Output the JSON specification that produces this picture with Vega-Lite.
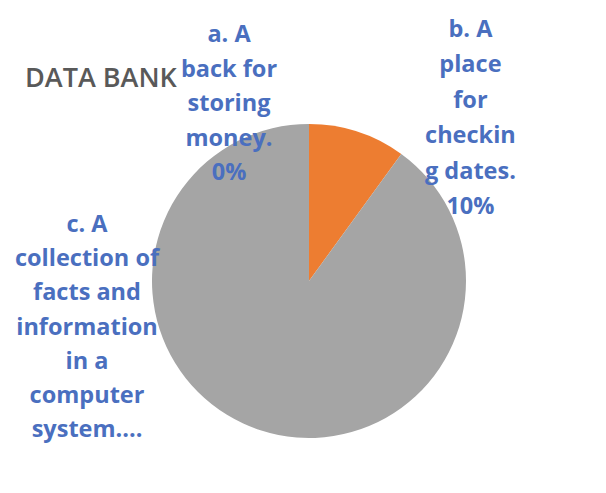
{
  "$schema": "https://vega.github.io/schema/vega-lite/v6.json",
  "width": 594,
  "height": 420,
  "autosize": {"type": "none"},
  "padding": {"left": 12, "top": 71, "right": 0, "bottom": 2},
  "background": "white",
  "title": {
    "text": "DATA BANK",
    "anchor": "start",
    "orient": "top",
    "frame": "group",
    "offset": 0,
    "baseline": "alphabetic",
    "dx": 13,
    "dy": 109,
    "font": "Open Sans",
    "fontSize": 27,
    "fontWeight": 600,
    "color": "#595959"
  },
  "data": {
    "values": [
      {"cat": "a", "value": 0, "label": "a. A\nback for\nstoring\nmoney.\n0%"},
      {"cat": "b", "value": 10, "label": "b. A\nplace\nfor\ncheckin\ng dates.\n10%"},
      {"cat": "c", "value": 90, "label": "c. A\ncollection of\nfacts and\ninformation\nin a\ncomputer\nsystem...."}
    ]
  },
  "encoding": {
    "theta": {"field": "value", "type": "quantitative", "stack": true},
    "order": {"field": "cat", "type": "ordinal"}
  },
  "layer": [
    {
      "mark": {"type": "arc", "radius": 157},
      "encoding": {
        "color": {
          "field": "cat",
          "type": "nominal",
          "scale": {"domain": ["a", "b", "c"], "range": ["#4472C4", "#ED7D31", "#A5A5A5"]},
          "legend": null
        }
      }
    },
    {
      "mark": {"type": "text", "radius": 239, "dx": -80, "dy": 0, "align": "center", "baseline": "alphabetic", "lineBreak": "\n", "lineHeight": 34.5, "font": "Open Sans", "fontSize": 23.5, "fontWeight": "bold", "color": "#4a6fbf"},
      "encoding": {"text": {"condition": {"test": "datum.cat === 'a'", "field": "label"}, "value": ""}}
    },
    {
      "mark": {"type": "text", "radius": 257, "dx": 82, "dy": 0, "align": "center", "baseline": "alphabetic", "lineBreak": "\n", "lineHeight": 35.5, "font": "Open Sans", "fontSize": 23.5, "fontWeight": "bold", "color": "#4a6fbf"},
      "encoding": {"text": {"condition": {"test": "datum.cat === 'b'", "field": "label"}, "value": ""}}
    },
    {
      "mark": {"type": "text", "radius": 0, "dx": -222, "dy": -49, "align": "center", "baseline": "alphabetic", "lineBreak": "\n", "lineHeight": 34.2, "font": "Open Sans", "fontSize": 23.5, "fontWeight": "bold", "color": "#4a6fbf"},
      "encoding": {"text": {"condition": {"test": "datum.cat === 'c'", "field": "label"}, "value": ""}}
    }
  ],
  "config": {"view": {"stroke": null}}
}
